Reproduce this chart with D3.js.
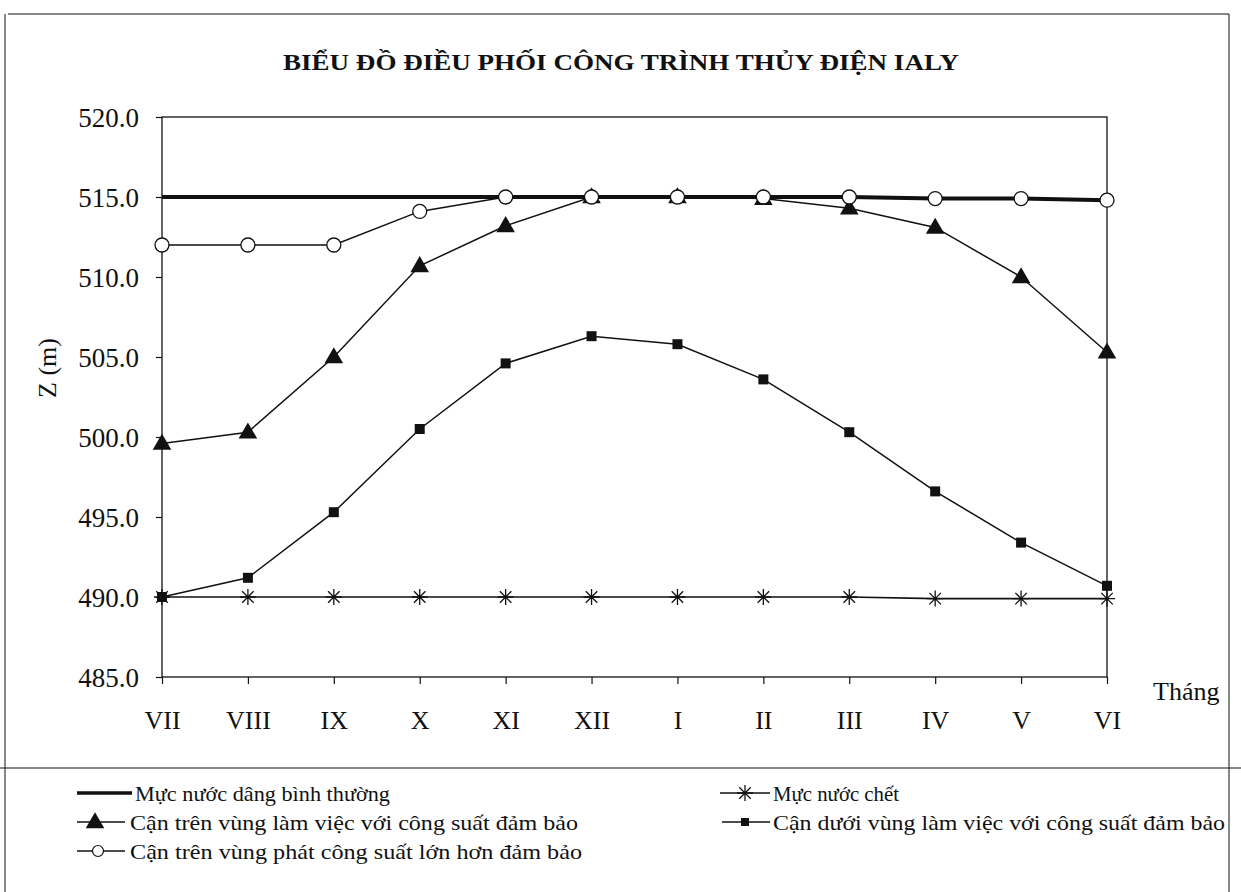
<!DOCTYPE html>
<html>
<head>
<meta charset="utf-8">
<script src="https://cdn.jsdelivr.net/npm/d3@7"></script>
<style>
  html, body { margin: 0; padding: 0; background: #fff; }
  svg { display: block; font-family: "Liberation Serif", "Times New Roman", serif; }
</style>
</head>
<body>
<svg id="chart" width="1241" height="892"></svg>
<script>
// ---- Data ----
const months = ["VII", "VIII", "IX", "X", "XI", "XII", "I", "II", "III", "IV", "V", "VI"];
const yTicks = [485, 490, 495, 500, 505, 510, 515, 520];
const normalLevel = [515, 515, 515, 515, 515, 515, 515, 515, 515, 514.9, 514.9, 514.8];
const deadLevel   = [490, 490, 490, 490, 490, 490, 490, 490, 490, 489.9, 489.9, 489.9];
const upperGuaranteed = [499.6, 500.3, 505.0, 510.7, 513.2, 515.0, 515.0, 514.9, 514.3, 513.1, 510.0, 505.3];
const lowerGuaranteed = [490.0, 491.2, 495.3, 500.5, 504.6, 506.3, 505.8, 503.6, 500.3, 496.6, 493.4, 490.7];
const upperHigherPower = [512.0, 512.0, 512.0, 514.1, 515.0, 515.0, 515.0, 515.0, 515.0, 514.9, 514.9, 514.8];

const titleText = "BIỂU ĐỒ ĐIỀU PHỐI CÔNG TRÌNH THỦY ĐIỆN IALY";
const yTitle = "Z (m)";
const xTitle = "Tháng";
const legendNames = {
  normal: "Mực nước dâng bình thường",
  dead: "Mực nước chết",
  upper: "Cận trên vùng làm việc với công suất đảm bảo",
  lower: "Cận dưới vùng làm việc với công suất đảm bảo",
  higher: "Cận trên vùng phát công suất lớn hơn đảm bảo"
};

// ---- Layout ----
const svg = d3.select("#chart");
const plot = { left: 162, right: 1107, top: 117, bottom: 677 };
const ink = "#111";

const x = d3.scalePoint().domain(months).range([plot.left, plot.right]);
const y = d3.scaleLinear().domain([485, 520]).range([plot.bottom, plot.top]);

// outer frame
svg.append("line").attr("x1", 8).attr("x2", 1229).attr("y1", 14).attr("y2", 14).attr("stroke", ink).attr("stroke-width", 1);
svg.append("line").attr("x1", 5).attr("x2", 5).attr("y1", 14).attr("y2", 892).attr("stroke", ink).attr("stroke-width", 1);
svg.append("line").attr("x1", 1229).attr("x2", 1229).attr("y1", 14).attr("y2", 892).attr("stroke", ink).attr("stroke-width", 1);
svg.append("line").attr("x1", 0).attr("x2", 1241).attr("y1", 768).attr("y2", 768).attr("stroke", ink).attr("stroke-width", 1.2);

// title
svg.append("text")
  .attr("x", 621).attr("y", 70)
  .attr("text-anchor", "middle")
  .attr("font-size", 23).attr("font-weight", "bold")
  .attr("textLength", 676).attr("lengthAdjust", "spacingAndGlyphs")
  .attr("fill", ink)
  .text(titleText);

// plot frame
svg.append("rect")
  .attr("x", plot.left).attr("y", plot.top)
  .attr("width", plot.right - plot.left).attr("height", plot.bottom - plot.top)
  .attr("fill", "none").attr("stroke", ink).attr("stroke-width", 1.3);

// y axis
const yAxis = svg.append("g")
  .attr("transform", `translate(${plot.left},0)`)
  .call(d3.axisLeft(y).tickValues(yTicks).tickFormat(d3.format(".1f")).tickSize(6).tickPadding(17));
yAxis.select(".domain").remove();
yAxis.selectAll(".tick line").attr("stroke", ink).attr("stroke-width", 1.2);
yAxis.selectAll(".tick text")
  .attr("font-family", "Liberation Serif, serif")
  .attr("font-size", 27).attr("fill", ink)
  .attr("dy", "0.34em");

// x axis
const xAxis = svg.append("g")
  .attr("transform", `translate(0,${plot.bottom})`)
  .call(d3.axisBottom(x).tickSize(7).tickPadding(10));
xAxis.select(".domain").remove();
xAxis.selectAll(".tick line").attr("stroke", ink).attr("stroke-width", 1.2);
xAxis.selectAll(".tick text")
  .attr("font-family", "Liberation Serif, serif")
  .attr("font-size", 26).attr("fill", ink)
  .attr("y", 52).attr("dy", 0);

// axis titles
svg.append("text")
  .attr("transform", "translate(56,368) rotate(-90)")
  .attr("text-anchor", "middle")
  .attr("font-size", 26).attr("fill", ink)
  .text(yTitle);
svg.append("text")
  .attr("x", 1153).attr("y", 700)
  .attr("font-size", 26).attr("fill", ink)
  .text(xTitle);

// ---- Series ----
const line = d3.line().x((d, i) => x(months[i])).y(d => y(d));
const series = [
  { key: "normal", values: normalLevel, width: 4, marker: null },
  { key: "dead", values: deadLevel, width: 1.6, marker: "star" },
  { key: "lower", values: lowerGuaranteed, width: 1.5, marker: "square" },
  { key: "upper", values: upperGuaranteed, width: 1.5, marker: "triangle" },
  { key: "higher", values: upperHigherPower, width: 1.5, marker: "circle" }
];

function drawMarker(g, type, cx, cy) {
  if (type === "triangle") {
    g.append("path").attr("d", d3.symbol().type(d3.symbolTriangle).size(150)())
      .attr("transform", `translate(${cx},${cy + 1})`).attr("fill", ink);
  } else if (type === "square") {
    g.append("rect").attr("x", cx - 5).attr("y", cy - 5).attr("width", 10).attr("height", 10).attr("fill", ink);
  } else if (type === "circle") {
    g.append("circle").attr("cx", cx).attr("cy", cy).attr("r", 7)
      .attr("fill", "#fff").attr("stroke", ink).attr("stroke-width", 1.3);
  } else if (type === "star") {
    const s = 8;
    const p = `M${cx - s},${cy}L${cx + s},${cy}M${cx},${cy - s}L${cx},${cy + s}` +
      `M${cx - s * 0.72},${cy - s * 0.72}L${cx + s * 0.72},${cy + s * 0.72}` +
      `M${cx - s * 0.72},${cy + s * 0.72}L${cx + s * 0.72},${cy - s * 0.72}`;
    g.append("path").attr("d", p).attr("stroke", ink).attr("stroke-width", 1.3).attr("fill", "none");
  }
}

series.forEach(s => {
  const g = svg.append("g");
  g.append("path").datum(s.values).attr("d", line)
    .attr("fill", "none").attr("stroke", ink).attr("stroke-width", s.width);
  if (s.marker) {
    s.values.forEach((v, i) => drawMarker(g, s.marker, x(months[i]), y(v)));
  }
});

// ---- Legend ----
const legendItems = [
  { key: "normal", marker: null, width: 3.5, x1: 77, x2: 132, mx: 0, ty: 793, tx: 135, tl: 255 },
  { key: "upper", marker: "triangle", width: 1.3, x1: 77, x2: 125, mx: 95, ty: 822, tx: 130, tl: 448 },
  { key: "higher", marker: "circle", width: 1.3, x1: 77, x2: 125, mx: 98, ty: 851, tx: 130, tl: 452 },
  { key: "dead", marker: "star", width: 1.6, x1: 720, x2: 770, mx: 745, ty: 793, tx: 773, tl: 126 },
  { key: "lower", marker: "square", width: 1.3, x1: 722, x2: 770, mx: 745, ty: 822, tx: 773, tl: 452 }
];
const lg = svg.append("g");
legendItems.forEach(it => {
  lg.append("line").attr("x1", it.x1).attr("x2", it.x2).attr("y1", it.ty).attr("y2", it.ty)
    .attr("stroke", ink).attr("stroke-width", it.width);
  if (it.marker === "circle") {
    lg.append("circle").attr("cx", it.mx).attr("cy", it.ty).attr("r", 5.5)
      .attr("fill", "#fff").attr("stroke", ink).attr("stroke-width", 1.2);
  } else if (it.marker === "square") {
    lg.append("rect").attr("x", it.mx - 4).attr("y", it.ty - 4).attr("width", 8).attr("height", 8).attr("fill", ink);
  } else if (it.marker) {
    drawMarker(lg, it.marker, it.mx, it.ty);
  }
  lg.append("text").attr("x", it.tx).attr("y", it.ty).attr("dy", "0.35em")
    .attr("font-size", 22).attr("fill", ink)
    .attr("textLength", it.tl).attr("lengthAdjust", "spacingAndGlyphs")
    .text(legendNames[it.key]);
});
</script>
</body>
</html>
